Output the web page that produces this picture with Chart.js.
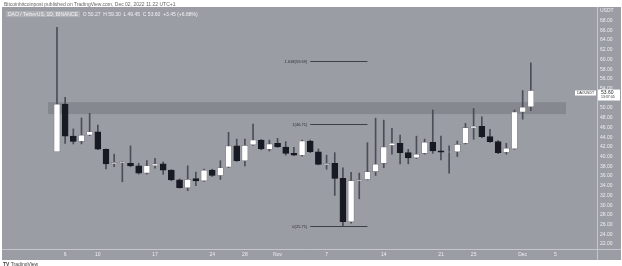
<!DOCTYPE html>
<html lang="en">
<head>
<meta charset="UTF-8">
<title>DAO / TetherUS, 1D</title>
<script src="https://cdn.jsdelivr.net/npm/chart.js"></script>
<style>
  body { margin: 0; background: #fff; }
  #wrap { position: relative; width: 622px; height: 266px; overflow: hidden; font-family: "Liberation Sans", Arial, sans-serif; }
  #chart { position: absolute; left: 0; top: 0; }
  .txt { position: absolute; white-space: nowrap; font-size: 5px; line-height: 6px; }
</style>
</head>
<body>
<div id="wrap">
  <canvas id="chart" width="622" height="266"></canvas>
  <div class="txt" style="left:4px;top:1px;color:#666">Bitcoinbitcoinpost published on TradingView.com, Dec 02, 2022 11:22 UTC+1</div>
  <div class="txt" id="legend" style="left:6px;top:11px;color:#f2f2f4"></div>
  <div class="txt" style="left:3px;top:261px;color:#444"><b>TV</b> TradingView</div>
</div>

<script>
// daily candles, first one is Oct 5 2022
const opens  = [41.0, 50.8, 44.2, 43.15, 44.45, 45.1, 41.5, 38.5, 38.7, 38.6,
                38.1, 36.6, 38.1, 38.5, 37.2, 35.2, 33.6, 35.45, 35.0, 37.2,
                36.1, 37.85, 42.2, 39.15, 42.45, 43.4, 41.5, 42.74, 41.97, 40.67,
                40.27, 43.2, 41.0, 38.3, 38.6, 35.5, 26.6, 35.04, 35.3, 36.9,
                38.6, 42.3, 42.74, 40.8, 39.77, 40.67, 42.94, 41.2, 40.9, 41.0,
                42.74, 45.9, 46.24, 44.1, 43.07, 40.9, 41.6, 49.18, 50.27];
const highs  = [66.6, 52.2, 45.7, 47.95, 48.9, 46.5, 41.6, 40.5, 38.9, 42.2,
                38.6, 39.2, 39.65, 38.9, 37.3, 35.4, 38.1, 36.8, 37.4, 37.4,
                39.15, 45.0, 43.6, 43.6, 46.7, 43.5, 43.4, 43.76, 43.07, 41.9,
                43.4, 43.4, 41.56, 40.3, 40.8, 37.7, 36.76, 36.6, 42.86, 47.9,
                47.5, 45.8, 44.45, 41.5, 44.2, 43.6, 49.6, 44.2, 42.2, 43.2,
                46.85, 49.9, 48.2, 45.6, 43.3, 42.74, 49.6, 53.6, 59.3];
const lows   = [41.0, 42.7, 42.6, 42.6, 44.3, 41.4, 37.45, 37.9, 34.8, 37.9,
                36.4, 36.4, 37.6, 36.35, 35.0, 33.5, 33.0, 34.0, 34.9, 35.9,
                35.3, 37.7, 39.0, 38.05, 42.3, 41.4, 41.15, 41.9, 40.3, 40.2,
                40.1, 40.8, 38.3, 37.4, 32.0, 25.71, 26.3, 31.3, 35.2, 36.1,
                37.7, 40.5, 38.5, 38.5, 39.6, 40.5, 40.67, 39.3, 36.6, 40.0,
                42.6, 43.56, 43.9, 42.9, 40.6, 40.5, 41.5, 47.7, 49.45];
const closes = [50.8, 44.2, 43.1, 44.4, 45.1, 41.5, 38.5, 38.8, 38.85, 38.1,
                36.6, 38.1, 38.5, 37.2, 35.2, 33.6, 35.3, 35.0, 37.2, 36.1,
                37.7, 42.2, 39.15, 42.3, 43.4, 41.6, 42.6, 41.97, 40.67, 40.27,
                43.2, 41.0, 38.4, 38.6, 35.5, 26.6, 35.04, 35.2, 36.9, 38.4,
                42.0, 42.74, 40.8, 39.7, 40.5, 42.94, 41.15, 40.9, 41.0, 42.5,
                45.95, 46.24, 44.1, 43.07, 40.8, 41.7, 49.2, 50.15, 53.6];

const xTickIdx  = [1, 5, 12, 19, 23, 27, 33, 40, 47, 51, 57, 61];
const xTickText = ['6', '10', '17', '24', '28', 'Nov', '7', '14', '21', '25', 'Dec', '5'];

const fibText   = ['0(25.71)', '1(46.71)', '1.618(59.69)'];
const fibPrices = [25.71, 46.71, 59.69];
const fibFrom = 31, fibTo = 38;

const bandLow = 48.75, bandHigh = 51.2, bandFrom = -1.1, bandTo = 62.3;

const last = closes.length - 1;
const chg = closes[last] - closes[last - 1];
document.getElementById('legend').innerHTML =
  '<span style="background:rgba(255,255,255,0.18);padding:0 2px">DAO / TetherUS, 1D, BINANCE</span>' +
  '&nbsp; O ' + opens[last].toFixed(2) + ' &nbsp;H ' + highs[last].toFixed(2) +
  ' &nbsp;L ' + lows[last].toFixed(2) + ' &nbsp;C ' + closes[last].toFixed(2) +
  ' &nbsp;+' + chg.toFixed(2) + ' (+' + (chg / closes[last - 1] * 100).toFixed(2) + '%)';

const up = closes.map((c, i) => c >= opens[i]);
const bodyData = opens.map((o, i) => ({ x: i, y: [o, closes[i]] }));
const wickData = lows.map((l, i) => ({ x: i, y: [l, highs[i]] }));

const paneGray = 'rgb(155,157,164)';

const backdrop = {
  id: 'backdrop',
  beforeDraw(chart) {
    const c = chart.ctx;
    c.save();
    c.fillStyle = paneGray;
    c.fillRect(2, 7, 619, 253);
    c.strokeStyle = '#c4c6cb';
    c.lineWidth = 1;
    c.beginPath();
    c.moveTo(597.5, 7); c.lineTo(597.5, 260);
    c.moveTo(2, 249.5); c.lineTo(621, 249.5);
    c.stroke();
    c.restore();
  },
  beforeDatasetsDraw(chart) {
    const { ctx: c, scales: { x, y } } = chart;
    c.save();
    c.fillStyle = 'rgba(95,97,106,0.35)';
    const x0 = x.getPixelForValue(bandFrom), x1 = x.getPixelForValue(bandTo);
    const y0 = y.getPixelForValue(bandHigh), y1 = y.getPixelForValue(bandLow);
    c.fillRect(x0, y0, x1 - x0, y1 - y0);
    c.restore();
  },
  afterDraw(chart) {
    const { ctx: c, scales: { x, y } } = chart;
    c.save();
    // fib levels
    c.strokeStyle = '#3c3f46';
    c.lineWidth = 1;
    c.fillStyle = '#2c2e34';
    c.font = '4px "Liberation Sans"';
    c.textAlign = 'right';
    c.textBaseline = 'middle';
    const fx0 = x.getPixelForValue(fibFrom), fx1 = x.getPixelForValue(fibTo);
    fibPrices.forEach((p, i) => {
      const py = Math.round(y.getPixelForValue(p)) + 0.5;
      c.beginPath(); c.moveTo(fx0, py); c.lineTo(fx1, py); c.stroke();
      c.fillText(fibText[i], fx0 - 3, py);
    });
    // last price tag
    const ty = y.getPixelForValue(closes[last]);
    c.fillStyle = '#ffffff';
    c.fillRect(598, ty - 1, 22, 11);
    c.fillRect(575, ty, 21, 5);
    c.fillStyle = '#2a2c32';
    c.textAlign = 'left';
    c.font = '5px "Liberation Sans"';
    c.fillText(closes[last].toFixed(2), 601, ty + 2);
    c.font = '3.5px "Liberation Sans"';
    c.fillText('13:37:05', 601, ty + 7);
    c.fillText('DAOUSDT', 577, ty + 2.5);
    c.restore();
  }
};

new Chart(document.getElementById('chart'), {
  type: 'bar',
  data: {
    datasets: [
      {
        label: 'body',
        data: bodyData,
        order: 0,
        grouped: false,
        barThickness: 6,
        backgroundColor: up.map(u => u ? '#ffffff' : '#171a22'),
        borderColor: up.map(u => u ? '#6b6e76' : '#171a22'),
        borderWidth: 0.6,
        borderSkipped: false
      },
      {
        label: 'wick',
        data: wickData,
        order: 1,
        grouped: false,
        barThickness: 1,
        backgroundColor: '#4b4e56',
        borderWidth: 0
      }
    ]
  },
  options: {
    responsive: false,
    animation: false,
    layout: { padding: { left: 2, top: 8, right: 1, bottom: 6 } },
    plugins: { legend: { display: false }, tooltip: { enabled: false } },
    scales: {
      x: {
        type: 'linear',
        offset: false,
        min: -6.73,
        max: 66.1,
        grid: { display: false, drawTicks: false },
        border: { display: false },
        afterBuildTicks: s => { s.ticks = xTickIdx.map(v => ({ value: v })); },
        afterFit: s => { s.height = 11; },
        ticks: {
          autoSkip: false,
          maxRotation: 0,
          padding: 3,
          color: '#eeeef1',
          font: { size: 5, family: 'Liberation Sans' },
          callback: v => xTickText[xTickIdx.indexOf(v)]
        }
      },
      y: {
        position: 'right',
        min: 20.97,
        max: 70.59,
        grid: { display: false, drawTicks: false },
        border: { display: false },
        afterFit: s => { s.width = 24; },
        ticks: {
          stepSize: 2,
          includeBounds: false,
          padding: 3,
          color: '#eeeef1',
          font: { size: 5, family: 'Liberation Sans' },
          callback: v => v === 70 ? 'USDT' : v.toFixed(2)
        }
      }
    }
  },
  plugins: [backdrop]
});
</script>
</body>
</html>
